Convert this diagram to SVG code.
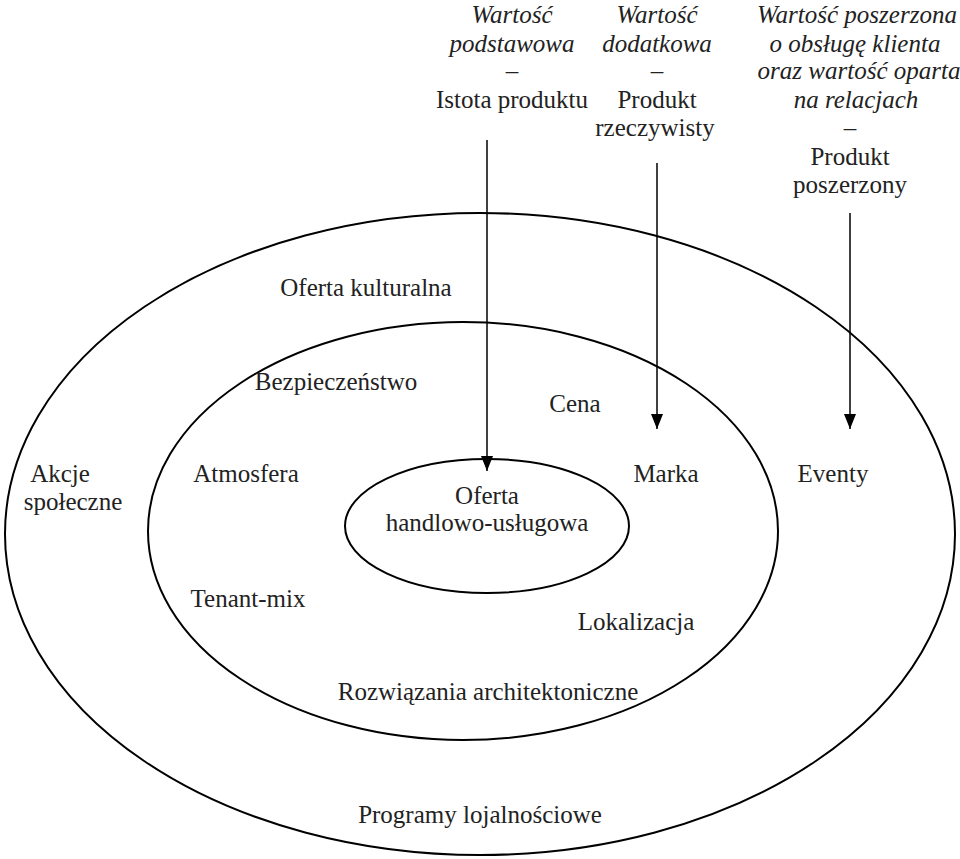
<svg xmlns="http://www.w3.org/2000/svg" width="960" height="859" viewBox="0 0 960 859">
<defs>
<marker id="ah" markerWidth="16" markerHeight="12" refX="15" refY="6" orient="auto" markerUnits="userSpaceOnUse" viewBox="0 0 16 12">
<path d="M0,0 L15,6 L0,12 Z" fill="#000"/>
</marker>
</defs>
<style>
text{font-family:"Liberation Serif","Times New Roman",serif;font-size:25px;fill:#222;text-anchor:middle}
.it{font-style:italic}
.ring{fill:none;stroke:#000;stroke-width:2}
.arr{stroke:#000;stroke-width:1.5;fill:none}
</style>
<rect width="960" height="859" fill="#fff"/>
<g id="outer"><ellipse class="ring" cx="480" cy="534" rx="475" ry="321"/></g>
<g id="middle"><ellipse class="ring" cx="463" cy="531" rx="315" ry="209"/></g>
<g id="inner"><ellipse class="ring" cx="487" cy="526" rx="142" ry="67"/>
<text x="487" y="504">Oferta</text><text x="487" y="531">handlowo-usługowa</text></g>
<g id="connectors">
<line class="arr" x1="487" y1="140" x2="487" y2="471" marker-end="url(#ah)"/>
<line class="arr" x1="657" y1="163" x2="657" y2="429" marker-end="url(#ah)"/>
<line class="arr" x1="850" y1="213" x2="850" y2="429" marker-end="url(#ah)"/>
</g>
<g id="col1">
<text class="it" x="512" y="23">Wartość</text>
<text class="it" x="512" y="52">podstawowa</text>
<text class="it" x="512" y="79">–</text>
<text x="512" y="108">Istota produktu</text>
</g>
<g id="col2">
<text class="it" x="657" y="23">Wartość</text>
<text class="it" x="657" y="52">dodatkowa</text>
<text class="it" x="657" y="79">–</text>
<text x="657" y="108">Produkt</text>
<text x="655" y="136">rzeczywisty</text>
</g>
<g id="col3">
<text class="it" x="857" y="23">Wartość poszerzona</text>
<text class="it" x="855" y="52">o obsługę klienta</text>
<text class="it" x="859" y="79">oraz wartość oparta</text>
<text class="it" x="856" y="108">na relacjach</text>
<text class="it" x="850" y="136">–</text>
<text x="850" y="165">Produkt</text>
<text x="850" y="193">poszerzony</text>
</g>
<g id="labels">
<text x="366" y="296">Oferta kulturalna</text>
<text x="336" y="390">Bezpieczeństwo</text>
<text x="575" y="412">Cena</text>
<text x="60" y="482">Akcje</text>
<text x="73" y="510">społeczne</text>
<text x="246" y="482">Atmosfera</text>
<text x="666" y="482">Marka</text>
<text x="833" y="482">Eventy</text>
<text x="248" y="607">Tenant-mix</text>
<text x="636" y="630">Lokalizacja</text>
<text x="488" y="700">Rozwiązania architektoniczne</text>
<text x="480" y="823">Programy lojalnościowe</text>
</g>
</svg>
